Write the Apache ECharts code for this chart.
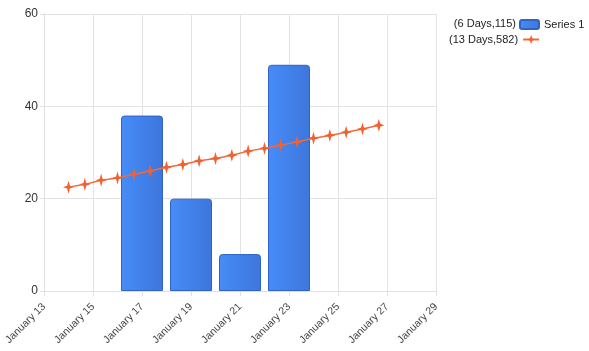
<!DOCTYPE html>
<html>
<head>
<meta charset="utf-8">
<script src="https://cdn.jsdelivr.net/npm/echarts@6/dist/echarts.min.js"></script>
<style>
html, body { margin: 0; padding: 0; background: #fff; }
#main { width: 589px; height: 351px; }
</style>
</head>
<body>
<div id="main"></div>
<script>
// day of month (January) for each bar / point
var barDays = [17, 19, 21, 23];
var barValues = [38, 20, 8, 49];

var lineDays = [14, 14.667, 15.333, 16, 16.667, 17.333, 18, 18.667, 19.333, 20,
	20.667, 21.333, 22, 22.667, 23.333, 24, 24.667, 25.333, 26, 26.667];
var lineValues = [22.5, 23.1, 24.0, 24.5, 25.3, 26.0, 26.8, 27.4, 28.2, 28.7,
	29.4, 30.3, 30.9, 31.6, 32.3, 33.1, 33.7, 34.4, 35.1, 35.9];

var barName = 'Series 1';
var lineName = '(13 Days,582)';
var barNote = '(6 Days,115)';

var star = 'path://M0,-12 L2.6,-2.6 L10,0 L2.6,2.6 L0,12 L-2.6,2.6 L-10,0 L-2.6,-2.6 Z';

var myChart = echarts.init(document.getElementById('main'));

var option = {
	animation: false,
	textStyle: {fontFamily: 'Liberation Sans, Arial, sans-serif'},
	grid: {left: 44, right: 153, top: 14, bottom: 60},
	legend: [
		{
			data: [barName],
			left: 519, top: 19,
			padding: 0,
			itemWidth: 19, itemHeight: 9,
			itemGap: 4,
			textStyle: {fontSize: 11, color: '#222'}
		},
		{
			data: [lineName],
			left: 449, top: 34,
			padding: 0,
			align: 'right',
			itemWidth: 16, itemHeight: 12,
			textStyle: {fontSize: 11, color: '#222'}
		}
	],
	graphic: [
		{
			type: 'text',
			x: 516, y: 18,
			style: {
				text: barNote, fontSize: 11, fill: '#222', align: 'right',
				fontFamily: 'Liberation Sans, Arial, sans-serif'
			}
		}
	],
	xAxis: {
		type: 'value',
		min: 13, max: 29, interval: 2,
		axisLine: {show: true, lineStyle: {color: '#e0e0e0'}},
		axisTick: {show: true, length: 5, lineStyle: {color: '#e0e0e0'}},
		splitLine: {show: true, lineStyle: {color: '#e3e3e3'}},
		axisLabel: {
			rotate: 45, fontSize: 10.5, color: '#444', margin: 14,
			formatter: function (v) { return 'January ' + v; }
		}
	},
	yAxis: {
		type: 'value',
		min: 0, max: 60, interval: 20,
		axisLine: {show: true, lineStyle: {color: '#e0e0e0'}},
		axisTick: {show: true, length: 4, lineStyle: {color: '#e0e0e0'}},
		splitLine: {lineStyle: {color: '#e3e3e3'}},
		axisLabel: {fontSize: 12, color: '#333', margin: 6}
	},
	series: [
		{
			name: barName,
			type: 'bar',
			barWidth: 42,
			data: barDays.map(function (d, i) { return [d, barValues[i]]; }),
			itemStyle: {
				color: new echarts.graphic.LinearGradient(0, 0, 1, 0, [
					{offset: 0, color: '#478cf9'},
					{offset: 1, color: '#3d76dc'}
				]),
				borderColor: '#2f63c4',
				borderWidth: 1,
				borderRadius: [3, 3, 0, 0]
			}
		},
		{
			name: lineName,
			type: 'line',
			data: lineDays.map(function (d, i) { return [d, lineValues[i]]; }),
			symbol: star,
			symbolSize: [11, 13],
			lineStyle: {color: '#f26a3d', width: 1.5},
			itemStyle: {color: '#f4602e', borderColor: '#f4602e', borderWidth: 0}
		}
	]
};

myChart.setOption(option);
</script>
</body>
</html>
